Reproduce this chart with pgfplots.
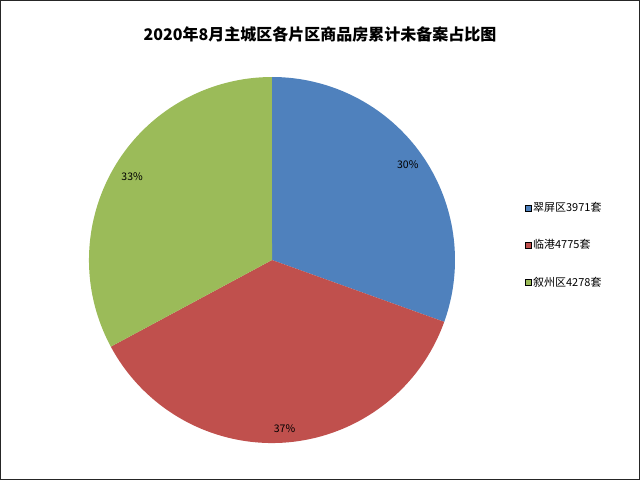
\documentclass[border=0pt]{standalone}
\usepackage{pgfplots}
\pgfplotsset{compat=1.18}
\usepackage{pgfplotstable}
\usepackage{fontspec}
\setmainfont{Noto Sans CJK SC}

\definecolor{pieblue}{HTML}{4F81BD}
\definecolor{piered}{HTML}{C0504D}
\definecolor{piegreen}{HTML}{9BBB59}

% 2020年8月 各片区累计未备案套数
\pgfplotstableread{
value
3971
4775
4278
}\piedata

\begin{document}
\begin{tikzpicture}
\pgfplotstablegetelem{0}{value}\of\piedata \let\va\pgfplotsretval
\pgfplotstablegetelem{1}{value}\of\piedata \let\vb\pgfplotsretval
\pgfplotstablegetelem{2}{value}\of\piedata \let\vc\pgfplotsretval
\pgfmathsetmacro\total{\va+\vb+\vc}
\pgfmathsetmacro\fa{\va/\total}
\pgfmathsetmacro\fb{\vb/\total}
\pgfmathsetmacro\fc{\vc/\total}
% angles, clockwise from 12 o'clock
\pgfmathsetmacro\ea{90-360*\fa}
\pgfmathsetmacro\eb{\ea-360*\fb}
\pgfmathsetmacro\ec{\eb-360*\fc}
\pgfmathsetmacro\ma{(90+\ea)/2}
\pgfmathsetmacro\mb{(\ea+\eb)/2}
\pgfmathsetmacro\mc{(\eb+\ec)/2}
\pgfmathtruncatemacro\pa{round(100*\fa)}
\pgfmathtruncatemacro\pb{round(100*\fb)}
\pgfmathtruncatemacro\pc{round(100*\fc)}
\begin{axis}[
    hide axis,
    x=1pt, y=1pt,
    xmin=0, xmax=640, ymin=0, ymax=480,
    clip=false,
    legend cell align=left,
    legend image code/.code={\fill[#1] (0pt,-3pt) rectangle (6pt,3pt);},
    legend style={at={(axis cs:525,235)}, anchor=west, draw=none, fill=none,
        font=\fontsize{11}{13}\selectfont, row sep=23.5pt, inner sep=0pt,
        nodes={inner sep=1.5pt}},
]
\addlegendimage{fill=pieblue}
\addlegendentry{翠屏区3971套}
\addlegendimage{fill=piered}
\addlegendentry{临港4775套}
\addlegendimage{fill=piegreen}
\addlegendentry{叙州区4278套}

\fill[pieblue] (axis cs:272,220) -- ++(90:183pt) arc[start angle=90, end angle=\ea, radius=183pt] -- cycle;
\fill[piered] (axis cs:272,220) -- ++(\ea:183pt) arc[start angle=\ea, end angle=\eb, radius=183pt] -- cycle;
\fill[piegreen] (axis cs:272,220) -- ++(\eb:183pt) arc[start angle=\eb, end angle=\ec, radius=183pt] -- cycle;

\node[font=\fontsize{10.5}{12}\selectfont] at (axis cs:{272+166*cos(\ma)},{220+166*sin(\ma)}) {\pa\%};
\node[font=\fontsize{10.5}{12}\selectfont] at (axis cs:{272+169*cos(\mb)},{220+169*sin(\mb)}) {\pb\%};
\node[font=\fontsize{10.5}{12}\selectfont] at (axis cs:{272+163*cos(\mc)},{220+163*sin(\mc)}) {\pc\%};

\node[font=\fontsize{16}{19}\selectfont\bfseries] at (axis cs:320,446) {2020年8月主城区各片区商品房累计未备案占比图};

\draw[line width=1pt, black!85] (axis cs:0.5,0.5) rectangle (axis cs:639.5,479.5);
\end{axis}
\end{tikzpicture}
\end{document}
